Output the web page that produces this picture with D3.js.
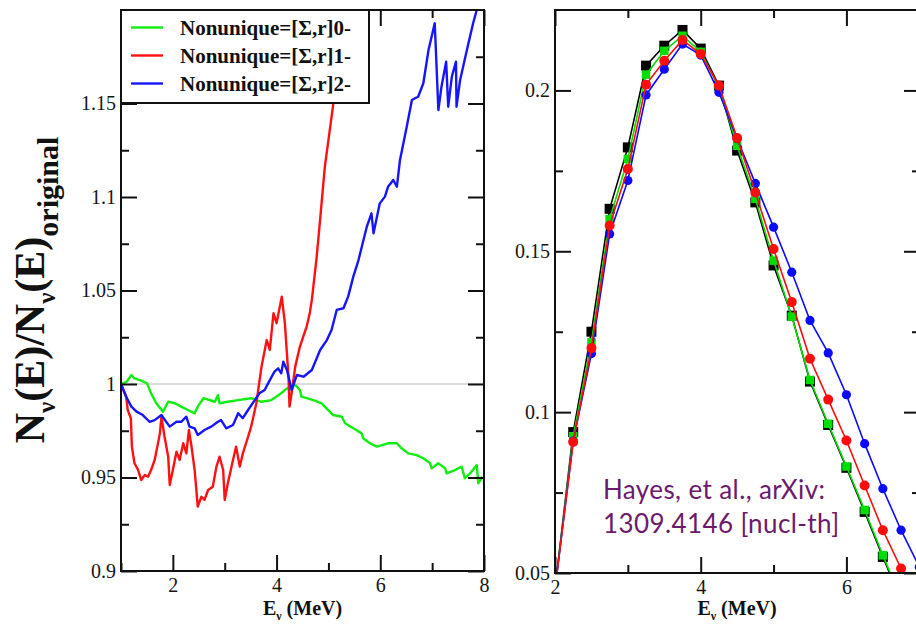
<!DOCTYPE html>
<html>
<head>
<meta charset="utf-8">
<script src="https://cdn.jsdelivr.net/npm/d3@7"></script>
<style>
  body { margin: 0; background: #fff; }
  svg text { font-family: "Liberation Serif", "DejaVu Serif", serif; }
</style>
</head>
<body>
<svg id="chart" width="916" height="627"></svg>
<script>
// ---- left panel: ratio N(E)/N(E)original, [energy MeV, ratio] ----
const ratioSigma0 = [
  [1.0, 1.0], [1.11, 1.0012], [1.20, 1.0048], [1.26, 1.003], [1.39, 1.0018], [1.50, 1.0004],
  [1.58, 0.995], [1.68, 0.9897], [1.81, 0.9852], [1.91, 0.9905], [2.04, 0.9897], [2.16, 0.9879],
  [2.29, 0.9861], [2.42, 0.9843], [2.48, 0.9879], [2.59, 0.9924], [2.81, 0.9905], [2.87, 0.9941],
  [2.90, 0.9897], [3.06, 0.9905], [3.26, 0.9914], [3.51, 0.9924], [3.71, 0.9905], [3.90, 0.9914],
  [4.09, 0.995], [4.16, 0.9968], [4.26, 0.9986], [4.36, 0.9995], [4.45, 0.9968], [4.48, 0.9932],
  [4.71, 0.9914], [4.87, 0.9897], [4.93, 0.9879], [5.09, 0.9834], [5.26, 0.9825], [5.32, 0.979],
  [5.48, 0.9763], [5.64, 0.9736], [5.67, 0.971], [5.80, 0.9683], [5.93, 0.9665], [6.15, 0.9683],
  [6.32, 0.9683], [6.41, 0.9656], [6.54, 0.9629], [6.70, 0.962], [6.83, 0.9603], [6.96, 0.9576],
  [6.99, 0.9549], [7.12, 0.9576], [7.25, 0.9549], [7.28, 0.9522], [7.44, 0.954], [7.57, 0.9558],
  [7.63, 0.9496], [7.73, 0.9522], [7.86, 0.9567], [7.89, 0.9469], [7.97, 0.9504]
];
const ratioSigma1 = [
  [1.0, 1.0], [1.10, 0.9932], [1.13, 0.9861], [1.19, 0.9817], [1.21, 0.9665], [1.26, 0.9576],
  [1.33, 0.954], [1.39, 0.9487], [1.46, 0.9513], [1.52, 0.9504], [1.58, 0.954], [1.65, 0.9594],
  [1.75, 0.9736], [1.78, 0.9825], [1.84, 0.9718], [1.91, 0.9611], [1.94, 0.946], [2.00, 0.954],
  [2.07, 0.9638], [2.13, 0.9594], [2.20, 0.9683], [2.26, 0.9629], [2.31, 0.9754], [2.36, 0.9665],
  [2.42, 0.954], [2.48, 0.9344], [2.55, 0.9397], [2.61, 0.938], [2.68, 0.9433], [2.77, 0.9451],
  [2.84, 0.9558], [2.90, 0.9611], [2.97, 0.954], [3.00, 0.938], [3.06, 0.9469], [3.16, 0.9594],
  [3.22, 0.9665], [3.29, 0.9558], [3.35, 0.9629], [3.45, 0.9718], [3.51, 0.9772], [3.61, 0.9897],
  [3.71, 1.0093], [3.81, 1.0235], [3.87, 1.0182], [3.94, 1.0378], [4.00, 1.0325], [4.10, 1.0467],
  [4.16, 1.0325], [4.23, 1.0039], [4.25, 0.9879], [4.29, 0.995], [4.36, 1.0093], [4.45, 1.02],
  [4.58, 1.0307], [4.64, 1.0378], [4.68, 1.045], [4.77, 1.067], [4.84, 1.088], [4.93, 1.116],
  [5.09, 1.149], [5.25, 1.21]
];
const ratioSigma2 = [
  [1.0, 1.0], [1.10, 0.9932], [1.20, 0.9879], [1.30, 0.9852], [1.42, 0.9834], [1.55, 0.9798],
  [1.65, 0.9807], [1.78, 0.9834], [1.87, 0.9798], [1.94, 0.9772], [2.07, 0.9798], [2.16, 0.9798],
  [2.26, 0.9825], [2.32, 0.9772], [2.42, 0.9763], [2.48, 0.9727], [2.61, 0.9754], [2.74, 0.9772],
  [2.87, 0.9798], [2.93, 0.9807], [3.03, 0.9763], [3.16, 0.9781], [3.26, 0.9843], [3.35, 0.9817],
  [3.45, 0.9861], [3.58, 0.9914], [3.67, 0.995], [3.77, 0.9968], [3.87, 1.0021], [3.96, 1.0066],
  [4.03, 1.0084], [4.09, 1.0057], [4.13, 1.0119], [4.20, 1.0075], [4.26, 1.0004], [4.29, 0.9968],
  [4.39, 1.0048], [4.52, 1.0039], [4.68, 1.0075], [4.84, 1.0182], [4.97, 1.0235], [5.06, 1.0289],
  [5.16, 1.0396], [5.29, 1.0405], [5.38, 1.0467], [5.48, 1.0574], [5.58, 1.0663], [5.74, 1.0841],
  [5.83, 1.0913], [5.87, 1.0806], [5.99, 1.0966], [6.09, 1.1002], [6.15, 1.1055], [6.25, 1.1091],
  [6.32, 1.1055], [6.38, 1.1198], [6.51, 1.1376], [6.61, 1.1519], [6.67, 1.1528], [6.73, 1.1536],
  [6.83, 1.1608], [6.93, 1.1786], [7.05, 1.1929], [7.12, 1.1465], [7.18, 1.159], [7.27, 1.1724],
  [7.31, 1.1483], [7.38, 1.1644], [7.46, 1.1724], [7.47, 1.1483], [7.54, 1.1626], [7.67, 1.1786],
  [7.79, 1.1929], [7.86, 1.2], [7.95, 1.215]
];
const ratioTicks = [0.9, 0.95, 1, 1.05, 1.1, 1.15];
const ratioMinor = [0.925, 0.975, 1.025, 1.075, 1.125, 1.175];
const leftETicks = [2, 4, 6, 8];
const leftEMinor = [1, 3, 5, 7];
const legendLabels = ["Nonunique=[\u03A3,r]0-", "Nonunique=[\u03A3,r]1-", "Nonunique=[\u03A3,r]2-"];

// ---- right panel: spectra ----
const specE = [2.0, 2.25, 2.5, 2.75, 3.0, 3.25, 3.5, 3.75, 4.0, 4.25, 4.5, 4.75, 5.0, 5.25, 5.5, 5.75, 6.0, 6.25, 6.5, 6.75, 7.0];
const specOriginal = [0.045, 0.0938, 0.125, 0.1632, 0.1823, 0.2077, 0.2139, 0.2188, 0.2130, 0.2015, 0.1813, 0.1652, 0.1456, 0.1300, 0.1095, 0.0960, 0.0827, 0.0690, 0.0550, 0.0415, 0.028];
const specSigma0 = [0.045, 0.0925, 0.1217, 0.1600, 0.1787, 0.2049, 0.2123, 0.2170, 0.2120, 0.2010, 0.1828, 0.1663, 0.1471, 0.1297, 0.1100, 0.0964, 0.0831, 0.0696, 0.0555, 0.0420, 0.029];
const specSigma1 = [0.045, 0.0907, 0.1199, 0.1580, 0.1756, 0.2018, 0.2092, 0.2157, 0.2113, 0.2015, 0.1852, 0.1683, 0.1507, 0.1342, 0.1166, 0.1039, 0.0912, 0.0772, 0.0633, 0.0514, 0.040];
const specSigma2 = [0.045, 0.0910, 0.1182, 0.1554, 0.1720, 0.1986, 0.2066, 0.2144, 0.2110, 0.1994, 0.1850, 0.1711, 0.1575, 0.1435, 0.1285, 0.1184, 0.1054, 0.0902, 0.0762, 0.0633, 0.0519];
const specTicks = [0.05, 0.1, 0.15, 0.2];
const specMinor = [0.075, 0.125, 0.175];
const rightETicks = [2, 4, 6];
const rightEMinor = [3, 5, 7];

const svg = d3.select("#chart");
const serif = "'Liberation Serif', 'DejaVu Serif', serif";
const tickFont = 20, MAJ = 16, MIN = 8;

function frameAxes(g, x, y, box, xt, xm, yt, ym) {
  // bottom + top ticks
  g.append("g").attr("transform", `translate(0,${box.y1})`)
    .call(d3.axisBottom(x).tickValues(xt).tickSizeInner(-MAJ).tickSizeOuter(0).tickPadding(7).tickFormat(d => d));
  g.append("g").attr("transform", `translate(0,${box.y1})`)
    .call(d3.axisBottom(x).tickValues(xm).tickSizeInner(-MIN).tickSizeOuter(0).tickFormat(""));
  g.append("g").attr("transform", `translate(0,${box.y0})`)
    .call(d3.axisTop(x).tickValues(xt).tickSizeInner(-MAJ).tickSizeOuter(0).tickFormat(""));
  g.append("g").attr("transform", `translate(0,${box.y0})`)
    .call(d3.axisTop(x).tickValues(xm).tickSizeInner(-MIN).tickSizeOuter(0).tickFormat(""));
  // left + right ticks
  g.append("g").attr("transform", `translate(${box.x0},0)`)
    .call(d3.axisLeft(y).tickValues(yt).tickSizeInner(-MAJ).tickSizeOuter(0).tickPadding(5).tickFormat(d => d));
  g.append("g").attr("transform", `translate(${box.x0},0)`)
    .call(d3.axisLeft(y).tickValues(ym).tickSizeInner(-MIN).tickSizeOuter(0).tickFormat(""));
  g.append("g").attr("transform", `translate(${box.x1},0)`)
    .call(d3.axisRight(y).tickValues(yt).tickSizeInner(-MAJ).tickSizeOuter(0).tickFormat(""));
  g.append("g").attr("transform", `translate(${box.x1},0)`)
    .call(d3.axisRight(y).tickValues(ym).tickSizeInner(-MIN).tickSizeOuter(0).tickFormat(""));
  g.selectAll(".domain").remove();
  g.selectAll(".tick line").attr("stroke", "#111").attr("stroke-width", 2);
  g.selectAll(".tick text")
    .attr("fill", "#151515")
    .style("font-family", serif)
    .style("font-size", tickFont + "px");
  g.append("rect")
    .attr("x", box.x0).attr("y", box.y0)
    .attr("width", box.x1 - box.x0).attr("height", box.y1 - box.y0)
    .attr("fill", "none").attr("stroke", "#111").attr("stroke-width", 2);
}

function xLabel(g, cx) {
  const t = g.append("text").attr("x", cx).attr("y", 615)
    .attr("text-anchor", "middle").attr("font-weight", "bold").attr("font-size", 20).attr("fill", "#111");
  t.append("tspan").text("E");
  t.append("tspan").attr("font-size", 12).attr("dy", 5).text("\u03BD");
  t.append("tspan").attr("dy", -5).text(" (MeV)");
}

// ================= left panel =================
const LB = { x0: 121, x1: 484, y0: 10, y1: 571 };
const xL = d3.scaleLinear().domain([1, 8]).range([LB.x0, LB.x1]);
const yL = d3.scaleLinear().domain([0.9, 1.2]).range([LB.y1, LB.y0]);
const left = svg.append("g");

left.append("clipPath").attr("id", "clipL").append("rect")
  .attr("x", LB.x0).attr("y", LB.y0).attr("width", LB.x1 - LB.x0).attr("height", LB.y1 - LB.y0);

left.append("line")
  .attr("x1", xL(1)).attr("x2", xL(8)).attr("y1", yL(1)).attr("y2", yL(1))
  .attr("stroke", "#cfcfcf").attr("stroke-width", 1.5);

const lineL = d3.line().x(d => xL(d[0])).y(d => yL(d[1]));
const leftSeries = [
  { data: ratioSigma0, color: "#11ee11" },
  { data: ratioSigma1, color: "#ff1111" },
  { data: ratioSigma2, color: "#1515ff" }
];
left.append("g").attr("clip-path", "url(#clipL)")
  .selectAll("path").data(leftSeries).join("path")
  .attr("d", s => lineL(s.data))
  .attr("fill", "none").attr("stroke", s => s.color).attr("stroke-width", 2.4)
  .attr("stroke-linejoin", "round");

frameAxes(left, xL, yL, LB, leftETicks, leftEMinor, ratioTicks, ratioMinor);
xLabel(left, (LB.x0 + LB.x1) / 2);

// legend
const leg = left.append("g");
leg.append("rect").attr("x", LB.x0).attr("y", LB.y0).attr("width", 248).attr("height", 93)
  .attr("fill", "#fff").attr("stroke", "#111").attr("stroke-width", 2);
const legY = d3.scalePoint().domain(legendLabels).range([27.5, 83.5]);
leftSeries.forEach((s, i) => {
  const yy = legY(legendLabels[i]);
  leg.append("line").attr("x1", 131).attr("x2", 163).attr("y1", yy).attr("y2", yy)
    .attr("stroke", s.color).attr("stroke-width", 2.4);
  leg.append("text").attr("x", 180).attr("y", yy + 7)
    .attr("font-size", 21).attr("font-weight", "bold").attr("fill", "#111")
    .text(legendLabels[i]);
});

// y label
const yl = left.append("text")
  .attr("transform", "translate(44,290) rotate(-90)")
  .attr("text-anchor", "middle").attr("font-weight", "bold").attr("fill", "#111")
  .attr("font-size", 42);
yl.append("tspan").text("N");
yl.append("tspan").attr("font-size", 25).attr("dy", 11).text("\u03BD");
yl.append("tspan").attr("dy", -11).text("(E)/N");
yl.append("tspan").attr("font-size", 25).attr("dy", 11).text("\u03BD");
yl.append("tspan").attr("dy", -11).text("(E)");
yl.append("tspan").attr("font-size", 30).attr("dy", 14).text("original");

// ================= right panel =================
const RB = { x0: 555, x1: 920, y0: 10, y1: 573 };
const xR = d3.scaleLinear().domain([2, 7.01]).range([RB.x0, RB.x1]);
const yR = d3.scaleLinear().domain([0.05, 0.225]).range([RB.y1, RB.y0]);
const right = svg.append("g");

right.append("clipPath").attr("id", "clipR").append("rect")
  .attr("x", RB.x0).attr("y", RB.y0).attr("width", RB.x1 - RB.x0).attr("height", RB.y1 - RB.y0);
right.append("clipPath").attr("id", "clipRm").append("rect")
  .attr("x", RB.x0 - 6).attr("y", RB.y0 - 6).attr("width", RB.x1 - RB.x0 + 12).attr("height", RB.y1 - RB.y0 + 6);

const rightSeries = [
  { vals: specOriginal, color: "#000000", shape: "square", size: 10 },
  { vals: specSigma0, color: "#00dd00", shape: "square", size: 8.5 },
  { vals: specSigma2, color: "#0a0aff", shape: "circle", size: 4.6 },
  { vals: specSigma1, color: "#ff0d0d", shape: "circle", size: 5 }
];
const lineR = d3.line().x((d, i) => xR(specE[i])).y(d => yR(d));

rightSeries.forEach(s => {
  right.append("path").attr("clip-path", "url(#clipR)")
    .attr("d", lineR(s.vals))
    .attr("fill", "none").attr("stroke", s.color).attr("stroke-width", 1.6);
  const pts = right.append("g").attr("clip-path", "url(#clipRm)");
  if (s.shape === "square") {
    pts.selectAll("rect").data(s.vals).join("rect")
      .attr("x", (d, i) => xR(specE[i]) - s.size / 2)
      .attr("y", d => yR(d) - s.size / 2)
      .attr("width", s.size).attr("height", s.size)
      .attr("fill", s.color);
  } else {
    pts.selectAll("circle").data(s.vals).join("circle")
      .attr("cx", (d, i) => xR(specE[i]))
      .attr("cy", d => yR(d))
      .attr("r", s.size)
      .attr("fill", s.color);
  }
});

frameAxes(right, xR, yR, RB, rightETicks, rightEMinor, specTicks, specMinor);
xLabel(right, 737);

const note = right.append("text")
  .attr("font-size", 26).attr("fill", "#6c1a6c")
  .style("font-family", "Lato, 'Open Sans', sans-serif")
  .attr("letter-spacing", 0.4);
note.append("tspan").attr("x", 603).attr("y", 499).text("Hayes, et al., arXiv:");
note.append("tspan").attr("x", 603).attr("y", 533).text("1309.4146 [nucl-th]");
</script>
</body>
</html>
